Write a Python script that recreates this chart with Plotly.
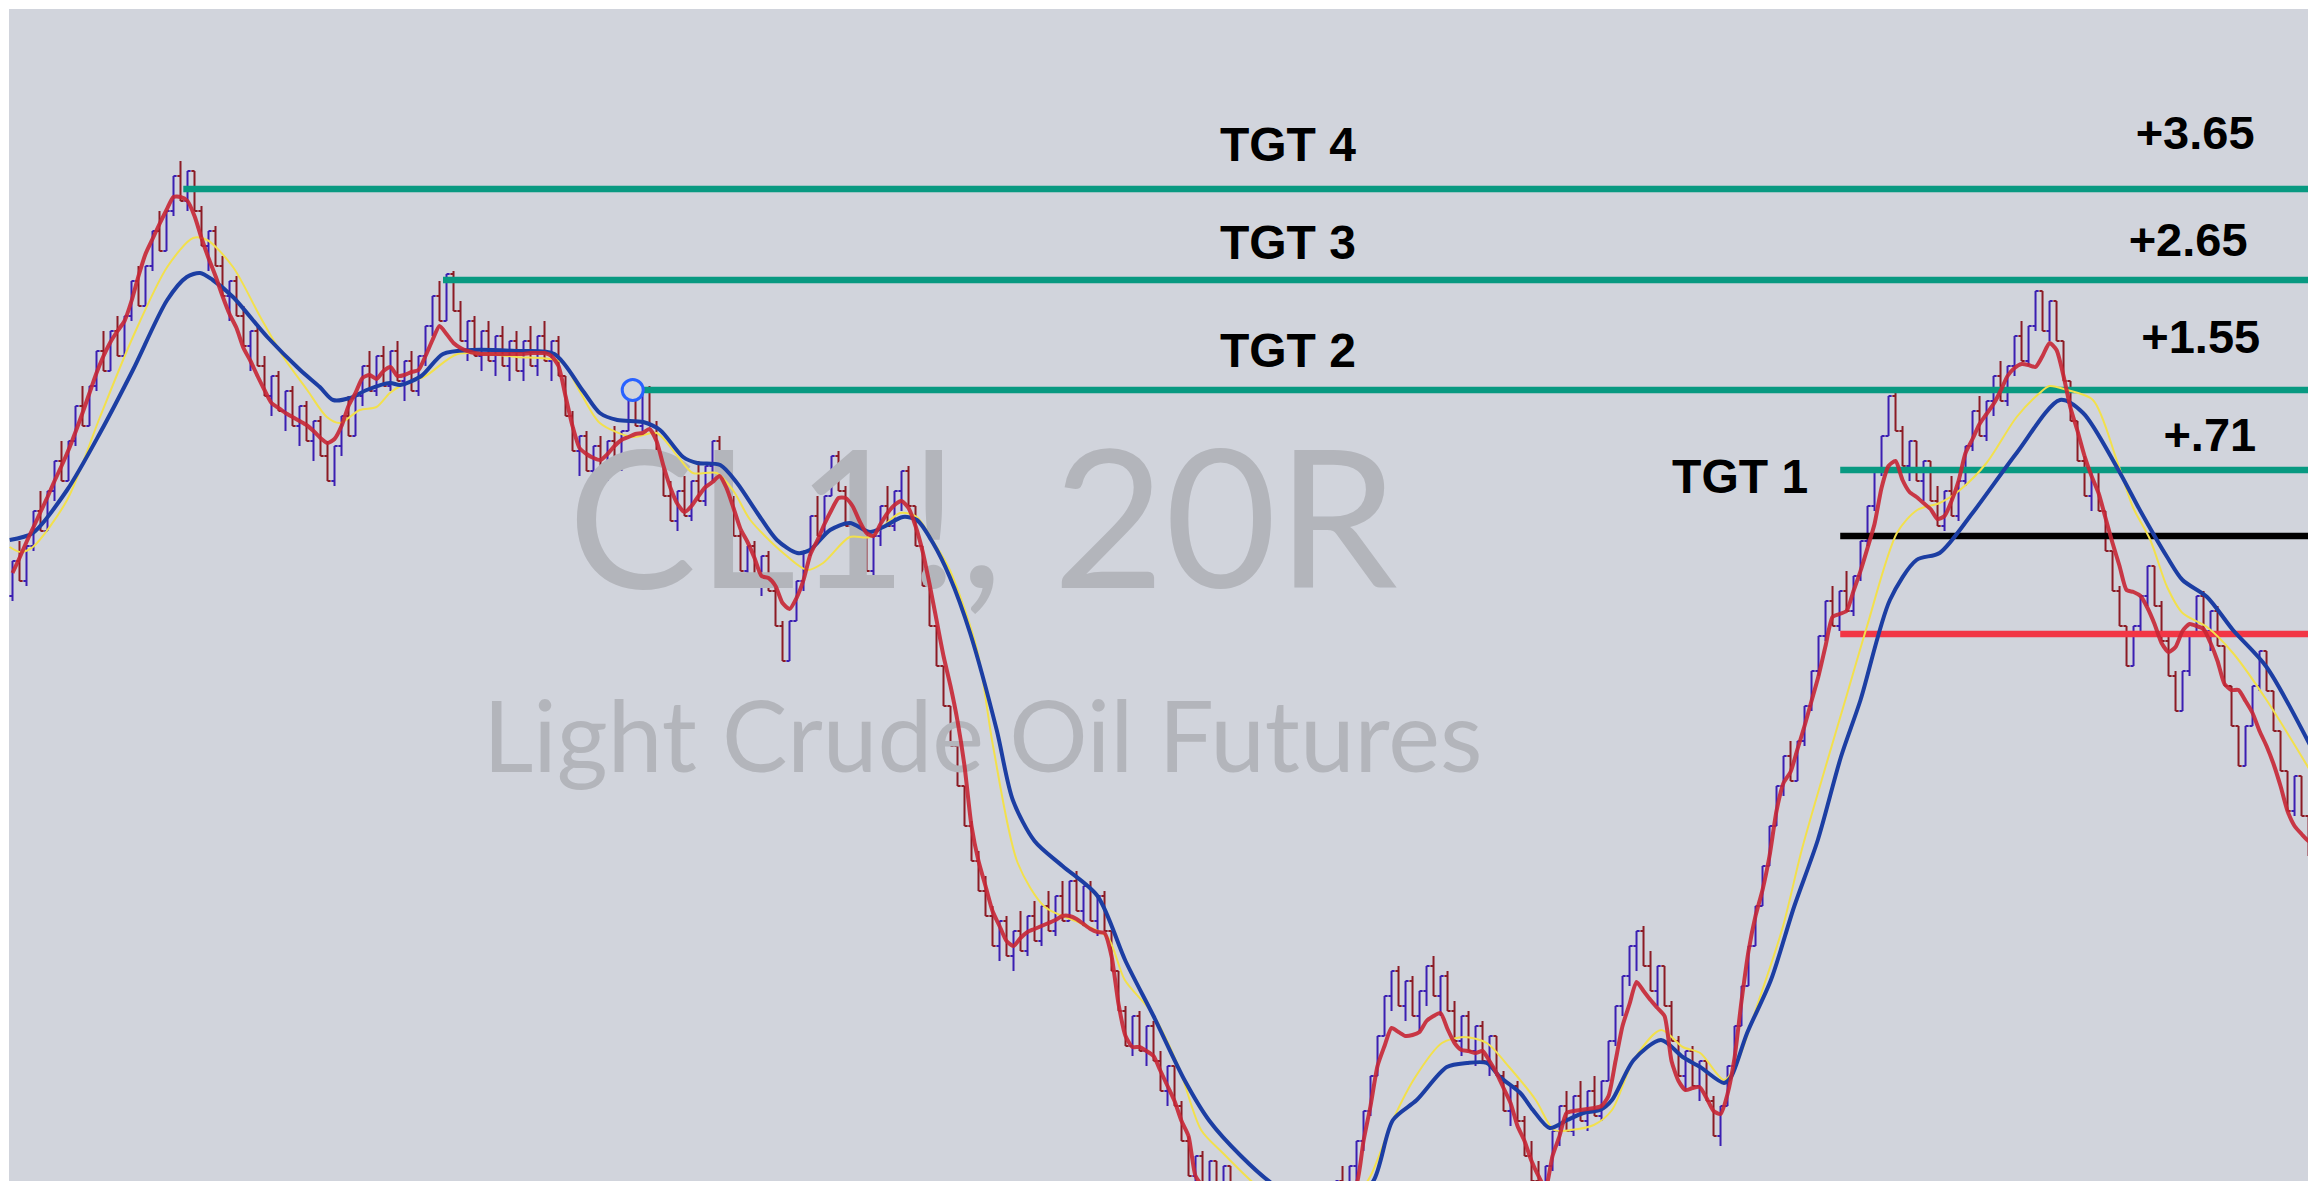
import plotly.graph_objects as go

ENTRY = 72.00  # entry price (black line); all series below are in cents relative to it

# ---- 20-range bars (cents relative to entry) ----
bar_open = [
    -60, -25, -45, -10, 25, 5, 45, 75, 55, 95,
    130, 110, 150, 185, 165, 205, 180, 220, 255, 230,
    270, 305, 285, 325, 360, 335, 365, 325, 290, 305,
    270, 240, 255, 220, 190, 205, 170, 140, 160, 125,
    145, 110, 130, 95, 115, 80, 55, 90, 120, 100,
    140, 170, 145, 180, 150, 185, 155, 175, 145, 180,
    210, 240, 215, 262, 225, 195, 215, 180, 205, 175,
    200, 170, 195, 165, 195, 170, 200, 175, 195, 160,
    120, 85, 100, 65, 90, 60, 95, 70, 105, 146,
    110, 145, 110, 75, 40, 15, 45, 20, 55, 35,
    70, 95, 60, 25, 0, -35, -10, -45, -20, -55,
    -90, -125, -85, -45, -15, 20, 0, 40, 80, 45,
    10, 40, 5, -35, 0, 30, 10, 45, 65, 30,
    -10, -50, -90, -130, -170, -210, -250, -290, -325, -355,
    -380, -410, -385, -420, -395, -415, -380, -405, -370, -395,
    -360, -385, -345, -375, -350, -385, -360, -395, -435, -475,
    -510, -480, -515, -490, -525, -555, -530, -570, -605, -640,
    -620, -655, -625, -665, -630, -675, -650, -690, -665, -700,
    -675, -705, -680, -715, -690, -710, -675, -700, -665, -690,
    -645, -670, -630, -605, -575, -540, -500, -460, -435, -470,
    -445, -480, -455, -430, -460, -440, -475, -505, -480, -515,
    -490, -525, -500, -540, -575, -550, -585, -620, -645, -665,
    -630, -595, -570, -595, -560, -585, -555, -580, -545, -505,
    -470, -440, -410, -395, -430, -455, -430, -470, -505, -540,
    -515, -550, -525, -565, -600, -570, -530, -490, -450, -410,
    -370, -330, -290, -250, -220, -245, -205, -170, -135, -100,
    -65, -90, -55, -75, -40, -5, 30, 65, 100, 140,
    105, 70, 95, 55, 75, 35, 10, 45, 20, 55,
    90, 125, 100, 135, 160, 135, 170, 200, 175, 210,
    245, 205, 235, 195, 155, 115, 75, 40, 65, 25,
    -15, -55, -90, -130, -90, -60, -30, -70, -105, -140,
    -175, -135, -100, -60, -95, -75, -110, -150, -190, -230,
    -190, -150, -115, -155, -195, -235, -275, -240, -280, -320,
]
bar_high = [
    -25, -5, -10, 25, 45, 45, 75, 95, 95, 130,
    150, 150, 185, 205, 205, 220, 220, 255, 270, 270,
    305, 325, 325, 360, 375, 365, 365, 330, 305, 310,
    280, 255, 260, 230, 205, 210, 180, 160, 165, 145,
    150, 130, 135, 115, 120, 95, 90, 120, 140, 140,
    170, 185, 180, 190, 185, 195, 175, 185, 180, 210,
    240, 255, 262, 265, 235, 215, 220, 205, 215, 200,
    210, 195, 205, 195, 210, 200, 215, 195, 200, 160,
    125, 100, 105, 90, 100, 95, 110, 105, 146, 150,
    145, 150, 115, 80, 55, 45, 60, 55, 75, 70,
    95, 100, 65, 40, 5, -10, -5, -20, -15, -50,
    -85, -85, -45, -15, 20, 40, 40, 80, 85, 50,
    40, 45, 5, 0, 30, 50, 45, 65, 70, 30,
    -10, -50, -90, -130, -170, -210, -250, -285, -315, -340,
    -370, -385, -380, -395, -375, -380, -365, -370, -355, -360,
    -345, -345, -335, -350, -345, -360, -355, -395, -435, -470,
    -480, -475, -490, -485, -515, -530, -530, -565, -600, -620,
    -615, -625, -625, -630, -630, -650, -650, -665, -660, -675,
    -665, -680, -675, -690, -670, -675, -660, -665, -650, -645,
    -630, -630, -605, -575, -540, -500, -460, -435, -430, -445,
    -440, -455, -430, -420, -440, -435, -465, -480, -475, -490,
    -485, -500, -500, -535, -550, -545, -580, -605, -625, -630,
    -595, -570, -555, -560, -545, -555, -540, -545, -505, -470,
    -440, -410, -395, -390, -415, -430, -430, -465, -500, -515,
    -510, -525, -525, -560, -570, -530, -490, -450, -410, -370,
    -330, -290, -250, -220, -205, -205, -170, -135, -100, -65,
    -50, -55, -35, -40, -5, 30, 65, 100, 140, 145,
    110, 95, 95, 75, 75, 50, 45, 60, 55, 90,
    125, 140, 135, 160, 175, 170, 200, 215, 210, 245,
    245, 235, 235, 195, 155, 115, 80, 65, 65, 25,
    -15, -50, -90, -90, -60, -30, -30, -65, -100, -135,
    -135, -100, -60, -55, -75, -70, -110, -150, -190, -190,
    -150, -115, -115, -155, -195, -235, -240, -240, -280, -315,
]
bar_low = [
    -65, -45, -50, -15, 5, 5, 35, 55, 55, 90,
    110, 110, 145, 165, 165, 180, 180, 215, 230, 230,
    265, 285, 285, 320, 335, 325, 325, 290, 265, 270,
    240, 215, 220, 190, 165, 170, 140, 120, 125, 105,
    110, 90, 95, 75, 80, 55, 50, 80, 100, 100,
    130, 145, 140, 150, 145, 155, 135, 145, 140, 170,
    200, 215, 215, 225, 195, 175, 180, 165, 175, 160,
    170, 155, 165, 155, 170, 160, 175, 155, 160, 120,
    85, 60, 65, 50, 60, 55, 70, 65, 105, 110,
    105, 110, 75, 40, 15, 5, 20, 15, 35, 30,
    55, 60, 25, 0, -35, -50, -45, -60, -55, -90,
    -125, -125, -85, -55, -20, 0, 0, 40, 45, 10,
    0, 5, -35, -40, -10, 10, 5, 25, 30, -10,
    -50, -90, -130, -170, -210, -250, -290, -325, -355, -380,
    -410, -425, -420, -435, -415, -420, -405, -410, -395, -400,
    -385, -385, -375, -390, -385, -400, -395, -435, -475, -510,
    -520, -515, -530, -525, -555, -570, -570, -605, -640, -660,
    -655, -665, -665, -670, -675, -690, -690, -705, -700, -715,
    -705, -720, -715, -730, -710, -715, -700, -705, -690, -690,
    -670, -670, -645, -615, -580, -540, -500, -475, -470, -485,
    -480, -495, -470, -460, -480, -475, -505, -520, -515, -530,
    -525, -540, -540, -575, -590, -585, -620, -645, -665, -670,
    -635, -610, -595, -600, -585, -595, -580, -585, -545, -510,
    -480, -450, -435, -430, -455, -470, -470, -505, -540, -555,
    -550, -565, -565, -600, -610, -570, -530, -490, -450, -410,
    -370, -330, -290, -260, -245, -245, -210, -175, -140, -105,
    -90, -95, -75, -80, -45, -10, 25, 60, 100, 105,
    70, 55, 55, 35, 35, 10, 5, 20, 15, 50,
    85, 100, 95, 120, 135, 130, 160, 175, 170, 205,
    205, 195, 195, 155, 115, 75, 40, 25, 25, -15,
    -55, -90, -130, -130, -100, -70, -70, -105, -140, -175,
    -175, -140, -100, -95, -115, -110, -150, -190, -230, -230,
    -190, -155, -155, -195, -235, -275, -280, -280, -320, -355,
]
bar_close = [
    -25, -45, -10, 25, 5, 45, 75, 55, 95, 130,
    110, 150, 185, 165, 205, 180, 220, 255, 230, 270,
    305, 285, 325, 360, 335, 365, 325, 290, 305, 270,
    240, 255, 220, 190, 205, 170, 140, 160, 125, 145,
    110, 130, 95, 115, 80, 55, 90, 120, 100, 140,
    170, 145, 180, 150, 185, 155, 175, 145, 180, 210,
    240, 215, 262, 225, 195, 215, 180, 205, 175, 200,
    170, 195, 165, 195, 170, 200, 175, 195, 160, 120,
    85, 100, 65, 90, 60, 95, 70, 105, 146, 110,
    145, 110, 75, 40, 15, 45, 20, 55, 35, 70,
    95, 60, 25, 0, -35, -10, -45, -20, -55, -90,
    -125, -85, -45, -15, 20, 0, 40, 80, 45, 10,
    40, 5, -35, 0, 30, 10, 45, 65, 30, -10,
    -50, -90, -130, -170, -210, -250, -290, -325, -355, -380,
    -410, -385, -420, -395, -415, -380, -405, -370, -395, -360,
    -385, -345, -375, -350, -385, -360, -395, -435, -475, -510,
    -480, -515, -490, -525, -555, -530, -570, -605, -640, -620,
    -655, -625, -665, -630, -675, -650, -690, -665, -700, -675,
    -705, -680, -715, -690, -710, -675, -700, -665, -690, -645,
    -670, -630, -605, -575, -540, -500, -460, -435, -470, -445,
    -480, -455, -430, -460, -440, -475, -505, -480, -515, -490,
    -525, -500, -540, -575, -550, -585, -620, -645, -665, -630,
    -595, -570, -595, -560, -585, -555, -580, -545, -505, -470,
    -440, -410, -395, -430, -455, -430, -470, -505, -540, -515,
    -550, -525, -565, -600, -570, -530, -490, -450, -410, -370,
    -330, -290, -250, -220, -245, -205, -170, -135, -100, -65,
    -90, -55, -75, -40, -5, 30, 65, 100, 140, 105,
    70, 95, 55, 75, 35, 10, 45, 20, 55, 90,
    125, 100, 135, 160, 135, 170, 200, 175, 210, 245,
    205, 235, 195, 155, 115, 75, 40, 65, 25, -15,
    -55, -90, -130, -90, -60, -30, -70, -105, -140, -175,
    -135, -100, -60, -95, -75, -110, -150, -190, -230, -190,
    -150, -115, -155, -195, -235, -275, -240, -280, -320, -355,
]

# ---- fast moving average (red), one value per bar ----
ma_fast = [
    -37, -22, -6, 9, 24, 39, 55, 70, 86, 104,
    123, 143, 163, 180, 194, 205, 215, 235, 260, 282,
    297, 312, 326, 339, 339, 335, 320, 298, 278, 260,
    240, 222, 208, 188, 175, 160, 146, 133, 128, 123,
    119, 115, 111, 105, 98, 93, 97, 110, 130, 143,
    158, 161, 157, 165, 169, 160, 161, 164, 166, 180,
    196, 210, 202, 193, 188, 185, 183, 182, 182, 182,
    182, 182, 182, 182, 183, 183, 183, 180, 170, 140,
    110, 88, 82, 78, 76, 82, 90, 96, 99, 102,
    103, 107, 95, 70, 48, 32, 24, 30, 40, 49,
    54, 60, 48, 28, 7, -6, -22, -40, -42, -50,
    -67, -73, -62, -44, -18, -4, 12, 26, 38, 38,
    30, 15, 3, 0, 12, 23, 31, 35, 28, 10,
    -15, -48, -84, -120, -150, -185, -230, -290, -325, -350,
    -375, -390, -405, -410, -402, -396, -393, -390, -387, -384,
    -380, -380, -383, -388, -393, -396, -397, -420, -468, -500,
    -511, -511, -515, -520, -535, -550, -565, -585, -600, -640,
    -650, -654, -656, -658, -660, -664, -667, -670, -674, -678,
    -680, -682, -684, -683, -681, -679, -676, -672, -669, -664,
    -658, -654, -648, -605, -570, -530, -510, -492, -496, -500,
    -499, -496, -485, -480, -477, -493, -507, -514, -515, -517,
    -515, -525, -537, -552, -567, -590, -605, -625, -640, -652,
    -620, -600, -577, -575, -574, -573, -572, -570, -560, -525,
    -490, -468, -446, -455, -464, -472, -480, -525, -545, -554,
    -552, -551, -562, -575, -578, -558, -522, -465, -415, -380,
    -354, -320, -275, -247, -236, -213, -190, -165, -140, -110,
    -81, -78, -75, -55, -35, -12, 12, 48, 70, 75,
    56, 44, 39, 33, 27, 17, 20, 35, 55, 83,
    97, 112, 122, 132, 145, 160, 168, 172, 171, 169,
    180, 193, 186, 160, 128, 105, 80, 60, 43, 18,
    -7, -30, -54, -56, -60, -72, -88, -107, -116, -111,
    -95, -88, -90, -93, -107, -125, -148, -154, -154, -165,
    -177, -195, -210, -228, -250, -275, -290, -298, -305, -307,
]

# ---- medium moving average (yellow): bar position, cents ----
ma_mid_x = [
    -0.4, 1.1, 2.9, 7.8, 12.5, 17.2, 22.1, 25.8, 27.8, 31.5,
    35.4, 38.7, 42.1, 44.9, 46.8, 49.6, 52.0, 53.9, 55.4, 59.0,
    63.6, 72.0, 78.4, 81.0, 83.9, 88.6, 92.0, 95.0, 97.2, 100.6,
    103.0, 105.4, 110.1, 113.5, 115.8, 119.6, 122.5, 126.8, 129.2, 131.5,
    133.9, 137.8, 140.1, 143.6, 147.5, 152.5, 156.4, 158.9, 162.8, 166.6,
    169.8, 172.9, 176.8, 181.0, 185.0, 189.0, 192.0, 194.0, 197.2, 200.4,
    204.2, 207.4, 210.6, 213.8, 217.6, 220.2, 222.6, 225.9, 228.5, 231.6,
    235.5, 238.6, 241.1, 244.5, 246.1, 249.5, 252.9, 255.6, 259.0, 262.0,
    264.9, 269.2, 272.1, 275.3, 278.2, 282.0, 286.3, 289.6, 291.0, 293.5,
    297.2, 300.6, 302.9, 305.4, 307.8, 310.0, 313.5, 317.2, 322.0, 329.3,
]
ma_mid = [
    -11, -16, -11, 36, 119, 199, 269, 298, 296, 269,
    219, 179, 146, 119, 113, 126, 129, 143, 150, 160,
    182, 179, 174, 145, 113, 99, 103, 80, 63, 63,
    45, 16, -17, -34, -27, -1, -1, 23, 19, -5,
    -34, -114, -211, -327, -371, -387, -401, -444, -477, -531,
    -594, -617, -644, -670, -685, -680, -660, -640, -584, -541,
    -507, -501, -507, -531, -564, -594, -594, -589, -574, -524,
    -494, -511, -517, -544, -531, -464, -391, -314, -231, -160,
    -91, 3, 26, 33, 46, 73, 119, 143, 150, 146,
    136, 76, 29, -4, -51, -77, -91, -117, -164, -247,
]

# ---- slow moving average (blue): bar position, cents ----
ma_slow_x = [
    -0.4, 2.9, 7.8, 12.5, 17.2, 22.1, 24.9, 26.8, 28.6, 31.5,
    36.4, 41.1, 43.9, 45.8, 48.2, 50.6, 53.9, 55.4, 58.4, 61.5,
    65.6, 72.0, 77.4, 81.5, 83.9, 86.4, 90.1, 92.5, 95.8, 97.8,
    101.1, 103.5, 106.4, 109.2, 112.1, 113.9, 116.8, 119.6, 122.5, 124.4,
    127.2, 129.2, 131.5, 133.9, 136.8, 140.6, 142.9, 146.0, 150.0, 155.0,
    159.0, 163.0, 167.5, 171.0, 175.5, 180.0, 184.0, 188.0, 191.0, 194.4,
    197.2, 200.6, 204.9, 207.8, 210.6, 212.5, 215.4, 217.2, 219.6, 222.1,
    224.4, 226.8, 228.5, 231.6, 235.5, 238.6, 241.1, 244.5, 245.5, 247.8,
    251.2, 254.5, 257.9, 261.2, 264.0, 268.2, 272.0, 275.3, 280.0, 286.3,
    292.5, 295.8, 300.6, 303.9, 307.8, 310.0, 313.5, 317.2, 322.0, 329.3,
]
ma_slow = [
    -4, 3, 46, 103, 166, 236, 259, 263, 256, 239,
    199, 166, 149, 136, 138, 146, 153, 151, 160, 182,
    186, 185, 182, 145, 123, 116, 114, 106, 79, 73,
    71, 53, 23, -4, -17, -14, 6, 13, 4, 9,
    19, 16, -7, -41, -97, -194, -264, -305, -330, -360,
    -425, -480, -545, -585, -620, -648, -665, -672, -665, -645,
    -584, -564, -531, -527, -527, -541, -557, -574, -592, -584,
    -577, -574, -564, -524, -504, -521, -531, -547, -541, -497,
    -444, -371, -304, -221, -164, -64, -24, -17, 23, 83,
    136, 123, 69, 26, -21, -44, -61, -94, -131, -224,
]

# ---- horizontal levels (cents relative to entry) ----
level_offsets = [347, 256, 146, 66, 0, -98]
level_start = [24.4, 61.5, 88.6, 261.1, 261.1, 261.1]
level_colors = ["#089981", "#089981", "#089981", "#089981", "#000000", "#f23645"]

# ---- labels ----
tgt_labels = ["TGT 4", "TGT 3", "TGT 2", "TGT 1"]
tgt_label_x = [182.2, 182.2, 182.2, 246.8]
tgt_label_y = [387, 289, 181.5, 55]
gain_labels = ["+3.65", "+2.65", "+1.55", "+.71"]
gain_label_x = [311.8, 310.8, 312.6, 313.9]
gain_label_y = [398.5, 292, 195, 96.5]

watermark_text = ["CL1!, 20R", "Light Crude Oil Futures"]
watermark_x = [138.6, 138.6]
watermark_y = [-4, -211]
watermark_size = [193, 98]

anchor_x = [88.6]
anchor_y = [146]

X_END = 340


def px(v):
    return ENTRY + v / 100.0


bars = list(range(len(bar_close)))
fig = go.Figure()

# watermark (beneath everything)
for t, x, y, s in zip(watermark_text, watermark_x, watermark_y, watermark_size):
    fig.add_trace(go.Scatter(
        x=[x], y=[px(y)], mode="text", text=[t], textposition="middle center",
        textfont=dict(family="Lato", size=s, color="#b3b5bb"),
        hoverinfo="skip", showlegend=False))

fig.add_trace(go.Ohlc(
    x=bars,
    open=[px(v) for v in bar_open],
    high=[px(v) for v in bar_high],
    low=[px(v) for v in bar_low],
    close=[px(v) for v in bar_close],
    increasing=dict(line=dict(color="#3b1fb2", width=2)),
    decreasing=dict(line=dict(color="#8c1b25", width=2)),
    tickwidth=0.45, showlegend=False, hoverinfo="skip"))

for lv, x0, col in zip(level_offsets, level_start, level_colors):
    fig.add_trace(go.Scatter(
        x=[x0, X_END], y=[px(lv), px(lv)], mode="lines",
        line=dict(color=col, width=6.5), hoverinfo="skip", showlegend=False))

fig.add_trace(go.Scatter(
    x=ma_mid_x, y=[px(v) for v in ma_mid], mode="lines",
    line=dict(color="#f2e04c", width=2, shape="spline", smoothing=0.8),
    hoverinfo="skip", showlegend=False))
fig.add_trace(go.Scatter(
    x=ma_slow_x, y=[px(v) for v in ma_slow], mode="lines",
    line=dict(color="#1c3ea3", width=4, shape="spline", smoothing=0.8),
    hoverinfo="skip", showlegend=False))
fig.add_trace(go.Scatter(
    x=bars, y=[px(v) for v in ma_fast], mode="lines",
    line=dict(color="rgba(198,38,52,0.9)", width=4, shape="spline", smoothing=0.6),
    hoverinfo="skip", showlegend=False))

fig.add_trace(go.Scatter(
    x=anchor_x, y=[px(v) for v in anchor_y], mode="markers",
    marker=dict(size=21, color="#d1d4dc", line=dict(color="#2962ff", width=3)),
    hoverinfo="skip", showlegend=False))

fig.add_trace(go.Scatter(
    x=tgt_label_x, y=[px(v) for v in tgt_label_y], mode="text", text=tgt_labels,
    textposition="middle center",
    textfont=dict(family="Liberation Sans, Arial", size=48, color="#000000", weight="bold"),
    hoverinfo="skip", showlegend=False))
fig.add_trace(go.Scatter(
    x=gain_label_x, y=[px(v) for v in gain_label_y], mode="text", text=gain_labels,
    textposition="middle center",
    textfont=dict(family="Liberation Sans, Arial", size=47, color="#000000", weight="bold"),
    hoverinfo="skip", showlegend=False))

fig.update_layout(
    width=2309, height=1174,
    margin=dict(l=1, r=0, t=1, b=0, pad=0),
    paper_bgcolor="#ffffff", plot_bgcolor="#d1d4dc",
    showlegend=False, hovermode=False,
    xaxis=dict(range=[-0.5, 329.21], visible=False, showgrid=False, zeroline=False,
               rangeslider=dict(visible=False), fixedrange=True),
    yaxis=dict(range=[px(-646), px(527)], visible=False, showgrid=False, zeroline=False,
               fixedrange=True),
)

fig.write_html("out.html", config={"displayModeBar": False})
